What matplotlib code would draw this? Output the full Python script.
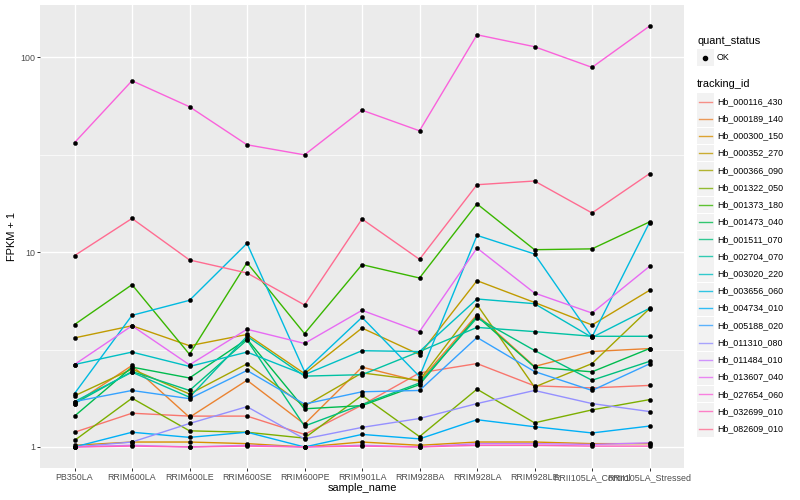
import matplotlib
matplotlib.use("Agg")
import matplotlib.pyplot as plt
from matplotlib.lines import Line2D
from matplotlib.patches import Rectangle
from matplotlib.ticker import FixedLocator, NullFormatter
import numpy as np

plt.rcParams['font.family'] = ['Liberation Sans', 'DejaVu Sans']

samples = ["PB350LA", "RRIM600LA", "RRIM600LE", "RRIM600SE", "RRIM600PE",
           "RRIM901LA", "RRIM928BA", "RRIM928LA", "RRIM928LE",
           "RRII105LA_Control", "RRII105LA_Stressed"]

tracking_ids = ["Hb_000116_430", "Hb_000189_140", "Hb_000300_150", "Hb_000352_270",
                "Hb_000366_090", "Hb_001322_050", "Hb_001373_180", "Hb_001473_040",
                "Hb_001511_070", "Hb_002704_070", "Hb_003020_220", "Hb_003656_060",
                "Hb_004734_010", "Hb_005188_020", "Hb_011310_080", "Hb_011484_010",
                "Hb_013607_040", "Hb_027654_060", "Hb_032699_010", "Hb_082609_010"]

# FPKM + 1 per sample (same order as samples)
hb_000116_430 = [1.19, 1.49, 1.44, 1.44, 1.16, 1.64, 2.40, 2.68, 2.06, 2.01, 2.07]
hb_000189_140 = [1.67, 2.62, 1.42, 2.20, 1.31, 2.57, 2.17, 4.78, 2.59, 3.09, 3.20]
hb_000300_150 = [1.02, 1.06, 1.06, 1.04, 1.00, 1.06, 1.02, 1.06, 1.06, 1.04, 1.04]
hb_000352_270 = [3.63, 4.19, 3.31, 3.78, 2.38, 4.08, 2.98, 7.14, 5.52, 4.23, 6.37]
hb_000366_090 = [1.83, 2.51, 1.87, 2.67, 1.62, 2.40, 2.20, 5.38, 2.03, 2.68, 5.13]
hb_001322_050 = [1.08, 1.78, 1.21, 1.19, 1.11, 1.84, 1.13, 1.98, 1.33, 1.55, 1.75]
hb_001373_180 = [4.25, 6.81, 2.99, 8.83, 3.82, 8.63, 7.37, 17.7, 10.3, 10.4, 14.3]
hb_001473_040 = [1.44, 2.57, 2.26, 3.58, 1.57, 1.63, 2.09, 4.69, 2.57, 2.43, 3.20]
hb_001511_070 = [1.67, 2.44, 1.95, 3.54, 1.28, 1.65, 2.13, 4.60, 3.13, 2.20, 2.75]
hb_002704_070 = [1.71, 2.42, 1.80, 3.70, 2.31, 2.35, 3.09, 4.11, 3.91, 3.70, 3.70]
hb_003020_220 = [2.65, 3.07, 2.59, 3.07, 2.35, 3.12, 3.09, 5.75, 5.44, 3.65, 5.15]
hb_003656_060 = [1.88, 4.74, 5.66, 11.1, 2.44, 4.63, 2.30, 12.2, 9.79, 3.67, 14.2]
hb_004734_010 = [1.00, 1.19, 1.12, 1.19, 1.00, 1.16, 1.10, 1.38, 1.27, 1.18, 1.28]
hb_005188_020 = [1.71, 1.95, 1.77, 2.47, 1.66, 1.92, 1.95, 3.65, 2.44, 1.95, 2.67]
hb_011310_080 = [1.00, 1.06, 1.32, 1.61, 1.10, 1.26, 1.40, 1.67, 1.95, 1.67, 1.52]
hb_011484_010 = [1.00, 1.02, 1.00, 1.02, 1.00, 1.02, 1.00, 1.04, 1.04, 1.03, 1.05]
hb_013607_040 = [2.65, 4.19, 2.64, 4.02, 3.40, 5.03, 3.91, 10.5, 6.17, 4.87, 8.45]
hb_027654_060 = [36.5, 75.9, 55.8, 35.6, 31.6, 53.6, 42.0, 130.7, 113.5, 88.9, 144.9]
hb_032699_010 = [1.00, 1.01, 1.00, 1.01, 1.00, 1.01, 1.00, 1.02, 1.02, 1.01, 1.01]
hb_082609_010 = [9.60, 14.9, 9.12, 7.82, 5.36, 14.8, 9.19, 22.2, 23.2, 15.9, 25.3]

series = [hb_000116_430, hb_000189_140, hb_000300_150, hb_000352_270, hb_000366_090,
          hb_001322_050, hb_001373_180, hb_001473_040, hb_001511_070, hb_002704_070,
          hb_003020_220, hb_003656_060, hb_004734_010, hb_005188_020, hb_011310_080,
          hb_011484_010, hb_013607_040, hb_027654_060, hb_032699_010, hb_082609_010]

quant_status = ["OK"]

colors = ["#F8766D", "#EA8331", "#D89000", "#C09B00", "#A3A500", "#7CAE00", "#39B600",
          "#00BB4E", "#00BF7D", "#00C1A3", "#00BFC4", "#00BAE0", "#00B0F6", "#35A2FF",
          "#9590FF", "#C77CFF", "#E76BF3", "#FA62DB", "#FF62BC", "#FF6C91"]

W, H = 800, 500
fig = plt.figure(figsize=(8, 5), dpi=100)
fig.patch.set_facecolor("white")

pl, pr, pt, pb = 40, 684, 5, 468
ax = fig.add_axes([pl / W, 1 - pb / H, (pr - pl) / W, (pb - pt) / H])
ax.set_facecolor("#EBEBEB")

x = np.arange(len(samples))
for vals, c in zip(series, colors):
    ax.plot(x, vals, color=c, lw=1.0, solid_capstyle="butt", zorder=3)
for vals in series:
    ax.plot(x, vals, ls="none", marker="o", ms=3.0, mfc="black", mec="black",
            mew=0.3, zorder=4)

ax.set_yscale("log")
allv = np.log10(np.concatenate([np.asarray(s) for s in series]))
lo, hi = allv.min(), allv.max()
pad = (hi - lo) * 0.05
ax.set_ylim(10 ** (lo - pad), 10 ** (hi + pad))
ax.set_xlim(-0.6, len(samples) - 1 + 0.6)

ax.yaxis.set_major_locator(FixedLocator([1, 10, 100]))
ax.set_yticklabels(["1", "10", "100"])
ax.yaxis.set_minor_locator(FixedLocator([10 ** 0.5, 10 ** 1.5]))
ax.yaxis.set_minor_formatter(NullFormatter())
ax.set_xticks(x)
ax.set_xticklabels(samples)

ax.grid(True, which="major", color="white", lw=1.0, zorder=0)
ax.grid(True, which="minor", axis="y", color="white", lw=0.5, zorder=0)
ax.set_axisbelow(True)
for s in ax.spines.values():
    s.set_visible(False)
ax.tick_params(axis="both", which="major", length=2.0, width=0.7, color="#333333",
               labelsize=6.4, labelcolor="#4D4D4D", pad=1.5)
ax.tick_params(axis="y", which="minor", length=0)

ax.set_xlabel("sample_name", fontsize=7.9, color="black", labelpad=0.5)
ax.set_ylabel("FPKM + 1", fontsize=7.9, color="black", labelpad=2)

# legend (drawn manually in figure pixel coordinates)
def fx(px):
    return px / W

def fy(py):
    return 1 - py / H

lx = 697
fig.text(fx(lx), fy(40.5), "quant_status", fontsize=7.9, va="center", ha="left")
ks = 16.5
for i, q in enumerate(quant_status):
    cy = 57.5 + i * 17.2
    fig.add_artist(Rectangle((fx(lx), fy(cy + ks / 2)), ks / W, ks / H,
                             transform=fig.transFigure, facecolor="#F2F2F2",
                             edgecolor="none"))
    fig.add_artist(Line2D([fx(lx + ks / 2)], [fy(cy)], transform=fig.transFigure,
                          marker="o", ms=3.0, color="black", ls="none"))
    fig.text(fx(717), fy(cy), q, fontsize=6.4, va="center", ha="left")

fig.text(fx(lx), fy(84.3), "tracking_id", fontsize=7.9, va="center", ha="left")
for i, (tid, c) in enumerate(zip(tracking_ids, colors)):
    cy = 101.5 + i * 17.22
    fig.add_artist(Rectangle((fx(lx), fy(cy + ks / 2)), ks / W, ks / H,
                             transform=fig.transFigure, facecolor="#F2F2F2",
                             edgecolor="none"))
    fig.add_artist(Line2D([fx(lx + 1.5), fx(lx + ks - 1.5)], [fy(cy), fy(cy)],
                          transform=fig.transFigure, color=c, lw=1.0, alpha=0.8))
    fig.text(fx(717), fy(cy), tid, fontsize=6.4, va="center", ha="left")

fig.savefig("out.png", dpi=100)
